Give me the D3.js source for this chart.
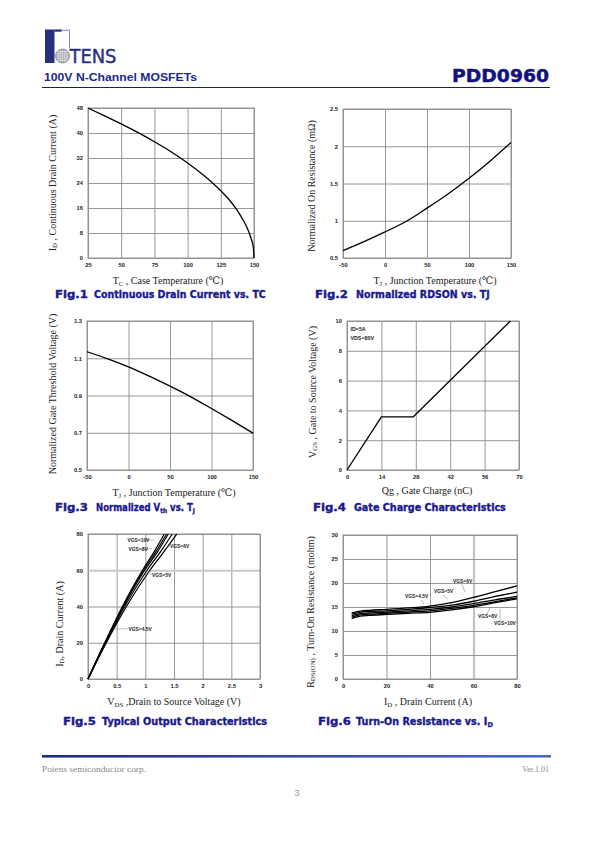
<!DOCTYPE html>
<html><head><meta charset="utf-8">
<script src="https://cdn.jsdelivr.net/npm/d3@7"></script>
<style>
html,body{margin:0;padding:0;background:#fff;}
svg{display:block;}
</style></head><body>
<svg id="page" width="595" height="842"></svg>
<script>
// ---------------- DATA ----------------
// Fig.1 Continuous drain current vs case temperature
const fig1Temp    = [25, 37.5, 50, 62.5, 75, 87.5, 100, 112.5, 125, 131, 137, 142, 146, 148, 149.5, 150];
const fig1Current = [48, 45.5, 42.9, 40.2, 37.2, 34.0, 30.4, 26.3, 21.5, 18.8, 15.5, 12.0, 8.5, 6.0, 3.3, 0];
const fig1XTicks = [25, 50, 75, 100, 125, 150];
const fig1YTicks = [0, 8, 16, 24, 32, 40, 48];

// Fig.2 Normalized RDSON vs TJ
const fig2Temp = [-50, -25, 0, 25, 50, 75, 100, 125, 150];
const fig2Rds  = [0.60, 0.72, 0.85, 0.99, 1.17, 1.36, 1.57, 1.80, 2.05];
const fig2XTicks = [-50, 0, 50, 100, 150];
const fig2YTicks = [0.5, 1, 1.5, 2, 2.5];

// Fig.3 Normalized Vth vs TJ
const fig3Temp = [-50, -25, 0, 25, 50, 75, 100, 125, 150];
const fig3Vth  = [1.135, 1.097, 1.054, 1.004, 0.95, 0.893, 0.83, 0.765, 0.698];
const fig3XTicks = [-50, 0, 50, 100, 150];
const fig3YTicks = [0.5, 0.7, 0.9, 1.1, 1.3];

// Fig.4 Gate charge
const fig4Qg  = [0, 14, 27, 66.5];
const fig4Vgs = [0, 3.57, 3.57, 10];
const fig4XTicks = [0, 14, 28, 42, 56, 70];
const fig4YTicks = [0, 2, 4, 6, 8, 10];
const fig4Notes = ["ID=5A", "VDS=80V"];

// Fig.5 Typical output characteristics
const fig5Series = ["VGS=10V", "VGS=8V", "VGS=6V", "VGS=5V", "VGS=4.5V"];
const fig5Vds = [
  [0, 0.3, 0.6, 0.95, 1.15, 1.33],
  [0, 0.3, 0.61, 0.97, 1.18, 1.37],
  [0, 0.3, 0.62, 0.99, 1.21, 1.40],
  [0, 0.31, 0.64, 1.03, 1.26, 1.47],
  [0, 0.32, 0.67, 1.08, 1.32, 1.55]
];
const fig5Id = [
  [0, 20.5, 40, 60, 70, 80],
  [0, 20.3, 40, 60, 70, 80],
  [0, 20.2, 40, 60, 70, 80],
  [0, 20, 40, 60, 70, 80],
  [0, 20, 40, 60, 70, 80]
];
const fig5XTicks = [0, 0.5, 1, 1.5, 2, 2.5, 3];
const fig5YTicks = [0, 20, 40, 60, 80];

// Fig.6 Turn-on resistance vs ID
const fig6Series = ["VGS=6V", "VGS=5V", "VGS=4.5V", "VGS=8V", "VGS=10V"];
const fig6Id = [4, 6, 8, 12, 20, 30, 40, 50, 60, 70, 80];
const fig6Rds = [
  [13.8, 14.0, 14.15, 14.3, 14.5, 14.8, 15.2, 15.9, 17.0, 18.2, 19.4],
  [13.5, 13.7, 13.9, 14.05, 14.2, 14.5, 14.9, 15.4, 16.2, 17.2, 18.1],
  [13.2, 13.4, 13.6, 13.75, 13.95, 14.2, 14.5, 15.0, 15.7, 16.5, 17.2],
  [12.9, 13.15, 13.35, 13.5, 13.7, 13.95, 14.2, 14.7, 15.35, 16.1, 16.9],
  [12.6, 12.9, 13.1, 13.25, 13.45, 13.7, 13.9, 14.4, 15.05, 15.9, 16.7]
];
const fig6XTicks = [0, 20, 40, 60, 80];
const fig6YTicks = [0, 5, 10, 15, 20, 25, 30];

// ---------------- DRAWING ----------------
const svg = d3.select('#page');
const NAVY = '#1a1a8c';
const GRID = '#8c8c8c';
const SERIF = "'Liberation Serif','DejaVu Serif',serif";
const SANS = "'Liberation Sans',Arial,sans-serif";
const HEAVY = "'DejaVu Sans',sans-serif";

// header logo
const logo = svg.append('g');
logo.append('rect').attr('x', 45).attr('y', 29.5).attr('width', 9.5).attr('height', 33.5).attr('fill', '#28307e');
logo.append('path').attr('d', 'M54.5,30.3 H69.5 V48').attr('fill', 'none').attr('stroke', '#7c84b8').attr('stroke-width', 1);
logo.append('rect').attr('x', 54.5).attr('y', 29.5).attr('width', 7).attr('height', 2.2).attr('fill', '#28307e');
logo.append('circle').attr('cx', 62.5).attr('cy', 56).attr('r', 7).attr('fill', '#a4a4b0');
[-4.5, -2.25, 0, 2.25, 4.5].forEach(o => {
  logo.append('line').attr('x1', 62.5 + o).attr('x2', 62.5 + o).attr('y1', 49.5).attr('y2', 62.5).attr('stroke', '#eeeef4').attr('stroke-width', 0.6);
  logo.append('line').attr('y1', 56 + o).attr('y2', 56 + o).attr('x1', 56).attr('x2', 69).attr('stroke', '#eeeef4').attr('stroke-width', 0.6);
});
logo.append('circle').attr('cx', 62.5).attr('cy', 56).attr('r', 7).attr('fill', 'none').attr('stroke', '#6a6a7c').attr('stroke-width', 0.6);
logo.append('text').attr('x', 69.5).attr('y', 63).text('TENS')
  .attr('font-family', "'DejaVu Sans Condensed','DejaVu Sans',sans-serif")
  .attr('font-size', 20).attr('fill', '#28307e').attr('stroke', '#28307e').attr('stroke-width', 0.4)
  .attr('textLength', 47).attr('lengthAdjust', 'spacingAndGlyphs');

svg.append('text').attr('x', 44).attr('y', 81).text('100V N-Channel MOSFETs')
  .attr('font-family', SANS).attr('font-weight', 'bold').attr('font-size', 11.5).attr('fill', '#1c2a8a')
  .attr('textLength', 153).attr('lengthAdjust', 'spacingAndGlyphs');
svg.append('text').attr('x', 452).attr('y', 81.5).text('PDD0960')
  .attr('font-family', HEAVY).attr('font-weight', 'bold').attr('font-size', 18.5).attr('fill', '#12127a')
  .attr('stroke', '#12127a').attr('stroke-width', 0.5)
  .attr('textLength', 97).attr('lengthAdjust', 'spacingAndGlyphs');
svg.append('line').attr('x1', 42).attr('x2', 550).attr('y1', 87.5).attr('y2', 87.5).attr('stroke', '#1a1a7a').attr('stroke-width', 1);

// footer
const defs = svg.append('defs');
const grad = defs.append('linearGradient').attr('id', 'fg').attr('x1', '0').attr('x2', '1');
grad.append('stop').attr('offset', '0').attr('stop-color', '#1d2d78');
grad.append('stop').attr('offset', '1').attr('stop-color', '#4a6ac0');
svg.append('rect').attr('x', 42).attr('y', 755).attr('width', 509).attr('height', 2.6).attr('fill', 'url(#fg)');
svg.append('text').attr('x', 42).attr('y', 772).text('Potens semiconductor corp.')
  .attr('font-family', SERIF).attr('font-size', 8).attr('fill', '#8a8a8a')
  .attr('textLength', 104).attr('lengthAdjust', 'spacingAndGlyphs');
svg.append('text').attr('x', 549).attr('y', 772).attr('text-anchor', 'end').text('Ver.1.01')
  .attr('font-family', SERIF).attr('font-size', 8).attr('fill', '#8a8a8a');
svg.append('text').attr('x', 297).attr('y', 796).attr('text-anchor', 'middle').text('3')
  .attr('font-family', SANS).attr('font-size', 9.5).attr('fill', '#999');

// rich text helper: parts = [[text, sub?]]
function rich(sel, parts, size) {
  let low = false;
  parts.forEach(p => {
    const t = sel.append('tspan').text(p[0]);
    if (p[1]) {
      t.attr('font-size', size * 0.68);
      if (!low) { t.attr('dy', size * 0.16); low = true; }
    } else if (low) {
      t.attr('dy', -size * 0.16); low = false;
    }
  });
  return sel;
}

function drawChart(cfg) {
  const g = svg.append('g');
  const x = d3.scaleLinear().domain(cfg.xDomain).range([cfg.left, cfg.right]);
  const y = d3.scaleLinear().domain(cfg.yDomain).range([cfg.bottom, cfg.top]);
  const w = cfg.right - cfg.left, h = cfg.bottom - cfg.top;

  const gx = g.append('g').attr('transform', `translate(0,${cfg.bottom})`)
    .call(d3.axisBottom(x).tickValues(cfg.xTicks).tickSizeInner(-h).tickSizeOuter(0).tickPadding(5).tickFormat(d => String(d)));
  const gy = g.append('g').attr('transform', `translate(${cfg.left},0)`)
    .call(d3.axisLeft(y).tickValues(cfg.yTicks).tickSizeInner(-w).tickSizeOuter(0).tickPadding(5).tickFormat(d => String(d)));
  [gx, gy].forEach(a => {
    a.select('.domain').remove();
    a.selectAll('.tick line').attr('stroke', GRID).attr('stroke-width', 0.9);
    a.selectAll('.tick text').attr('font-family', SANS).attr('font-weight', 'bold').attr('font-size', 5.8).attr('fill', '#222');
  });
  if (cfg.hiY !== undefined) {
    gy.selectAll('.tick line').filter(d => d === cfg.hiY).attr('stroke', '#c8c8c8').attr('stroke-width', 2);
  }
  if (cfg.hiX !== undefined) {
    gx.selectAll('.tick line').filter(d => d === cfg.hiX).attr('stroke', '#c4c4c4').attr('stroke-width', 2.2);
  }
  g.append('rect').attr('x', cfg.left).attr('y', cfg.top).attr('width', w).attr('height', h)
    .attr('fill', 'none').attr('stroke', GRID).attr('stroke-width', 0.9);

  const line = d3.line().x(d => x(d[0])).y(d => y(d[1])).curve(cfg.curve || d3.curveMonotoneX);
  cfg.series.forEach(s => {
    g.append('path').attr('d', line(s)).attr('fill', 'none').attr('stroke', '#000')
      .attr('stroke-width', cfg.lineWidth || 1.3).attr('stroke-linejoin', 'round');
  });

  // axis titles
  const xt = g.append('text').attr('x', cfg.xTitlePos[0]).attr('y', cfg.xTitlePos[1]).attr('text-anchor', 'middle')
    .attr('font-family', SERIF).attr('font-size', 10).attr('fill', '#222');
  rich(xt, cfg.xTitle, 10);
  const yt = g.append('text').attr('transform', `translate(${cfg.yTitlePos[0]},${cfg.yTitlePos[1]}) rotate(-90)`)
    .attr('text-anchor', 'middle').attr('y', 3.5)
    .attr('font-family', SERIF).attr('font-size', 10).attr('fill', '#222');
  rich(yt, cfg.yTitle, 10);

  // caption: figure number + title, each squeezed horizontally to the reference width
  const cap = cfg.caption;
  const fg = g.append('g').attr('transform', `translate(${cap.x},${cap.y})`);
  const ft = fg.append('text').text(cap.fig)
    .attr('font-family', HEAVY).attr('font-weight', 'bold').attr('font-size', 9.8).attr('fill', NAVY)
    .attr('stroke', NAVY).attr('stroke-width', 0.35);
  const fw = ft.node().getComputedTextLength();
  fg.attr('transform', `translate(${cap.x},${cap.y}) scale(${33 / fw},1)`);
  const tg = g.append('g');
  const ct = tg.append('text')
    .attr('font-family', HEAVY).attr('font-weight', 'bold').attr('font-size', 9.8).attr('fill', NAVY)
    .attr('stroke', NAVY).attr('stroke-width', 0.35);
  rich(ct, cap.title, 9.8);
  const tw = ct.node().getComputedTextLength();
  tg.attr('transform', `translate(${cap.tx},${cap.y}) scale(${cap.tw / tw},1)`);
  return {g, x, y};
}

function zip(a, b) { return a.map((v, i) => [v, b[i]]); }

// Fig.1
drawChart({
  left: 88, right: 254, top: 108, bottom: 258,
  xDomain: [25, 150], yDomain: [0, 48], xTicks: fig1XTicks, yTicks: fig1YTicks,
  series: [zip(fig1Temp, fig1Current)],
  xTitle: [['T'], ['C', true], [' , Case Temperature (℃)']], xTitlePos: [168, 284],
  yTitle: [['I'], ['D', true], [' , Continuous Drain Current (A)']], yTitlePos: [52, 183],
  caption: {x: 55, tx: 94, tw: 172, y: 298, fig: 'Fig.1', title: [['Continuous Drain Current vs. TC']]}
});

// Fig.2
drawChart({
  left: 343, right: 511, top: 109, bottom: 258,
  xDomain: [-50, 150], yDomain: [0.5, 2.5], xTicks: fig2XTicks, yTicks: fig2YTicks,
  series: [zip(fig2Temp, fig2Rds)],
  xTitle: [['T'], ['J', true], [' , Junction Temperature (℃)']], xTitlePos: [435, 284],
  yTitle: [['Normalized On Resistance (mΩ)']], yTitlePos: [311, 186],
  caption: {x: 315, tx: 356, tw: 134, y: 298, fig: 'Fig.2', title: [['Normalized RDSON vs. TJ']]}
});

// Fig.3
drawChart({
  left: 87, right: 253, top: 321, bottom: 470,
  xDomain: [-50, 150], yDomain: [0.5, 1.3], xTicks: fig3XTicks, yTicks: fig3YTicks,
  series: [zip(fig3Temp, fig3Vth)],
  xTitle: [['T'], ['J', true], [' , Junction Temperature (℃)']], xTitlePos: [174, 496],
  yTitle: [['Normalized Gate Threshold Voltage (V)']], yTitlePos: [52, 394],
  caption: {x: 55, tx: 96, tw: 99, y: 511, fig: 'Fig.3', title: [['Normalized V'], ['th', true], [' vs. T'], ['J', true]]}
});

// Fig.4
const c4 = drawChart({
  left: 347, right: 519, top: 321, bottom: 470,
  xDomain: [0, 70], yDomain: [0, 10], xTicks: fig4XTicks, yTicks: fig4YTicks,
  series: [zip(fig4Qg, fig4Vgs)], curve: d3.curveLinear,
  xTitle: [['Qg , Gate Charge (nC)']], xTitlePos: [427, 494],
  yTitle: [['V'], ['GS', true], [' , Gate to Source Voltage (V)']], yTitlePos: [312, 392],
  caption: {x: 313, tx: 354, tw: 152, y: 511, fig: 'Fig.4', title: [['Gate Charge Characteristics']]}
});
fig4Notes.forEach((t, i) => {
  c4.g.append('text').attr('x', 350.5).attr('y', 331 + i * 9).text(t)
    .attr('font-family', SANS).attr('font-weight', 'bold').attr('font-size', 5.3).attr('fill', '#222');
});

// Fig.5
const c5 = drawChart({
  left: 88, right: 260, top: 534, bottom: 679,
  xDomain: [0, 3], yDomain: [0, 80], xTicks: fig5XTicks, yTicks: fig5YTicks, hiY: 60,
  series: fig5Vds.map((v, i) => zip(v, fig5Id[i])), lineWidth: 1.2,
  xTitle: [['V'], ['DS', true], [' ,Drain to Source Voltage (V)']], xTitlePos: [174, 705],
  yTitle: [['I'], ['D', true], [', Drain Current (A)']], yTitlePos: [59, 624],
  caption: {x: 63, tx: 102, tw: 165, y: 725, fig: 'Fig.5', title: [['Typical Output Characteristics']]}
});
const fig5LabelPos = [[127.5, 541.5, 145, 540, 154, 540], [128.5, 551, 143, 549.5, 152, 548.5], [170, 547.5, 170, 546, 165, 548.5], [152, 577, 152, 575, 146, 571.5], [128.5, 630.5, 128, 628.8, 113, 628.8]];
fig5Series.forEach((s, i) => {
  const p = fig5LabelPos[i];
  c5.g.append('line').attr('x1', p[2]).attr('y1', p[3]).attr('x2', p[4]).attr('y2', p[5]).attr('stroke', '#777').attr('stroke-width', 0.5);
  c5.g.append('text').attr('x', p[0]).attr('y', p[1]).text(s)
    .attr('font-family', SANS).attr('font-weight', 'bold').attr('font-size', 4.9).attr('fill', '#222');
});

// Fig.6
const c6 = drawChart({
  left: 343, right: 517, top: 535, bottom: 679,
  xDomain: [0, 80], yDomain: [0, 30], xTicks: fig6XTicks, yTicks: fig6YTicks, hiX: 60,
  series: fig6Rds.map(r => zip(fig6Id, r)), lineWidth: 1.3,
  xTitle: [['I'], ['D', true], [' , Drain Current (A)']], xTitlePos: [428, 705],
  yTitle: [['R'], ['DS(ON)', true], [' , Turn-On Resistance (mohm)']], yTitlePos: [310, 612],
  caption: {x: 318, tx: 356, tw: 137, y: 725, fig: 'Fig.6', title: [['Turn-On Resistance vs. I'], ['D', true]]}
});
const fig6LabelPos = [[453, 582.5, 462, 584.5, 465, 592], [434, 593, 443, 595, 448, 599.5], [405, 598, 421, 600, 424, 604], [478, 618, 487, 614, 490, 607.5], [494, 625, 500, 621, 500, 609]];
fig6Series.forEach((s, i) => {
  const p = fig6LabelPos[i];
  c6.g.append('line').attr('x1', p[2]).attr('y1', p[3]).attr('x2', p[4]).attr('y2', p[5]).attr('stroke', '#777').attr('stroke-width', 0.5);
  c6.g.append('text').attr('x', p[0]).attr('y', p[1]).text(s)
    .attr('font-family', SANS).attr('font-weight', 'bold').attr('font-size', 4.9).attr('fill', '#222');
});
</script>
</body></html>
